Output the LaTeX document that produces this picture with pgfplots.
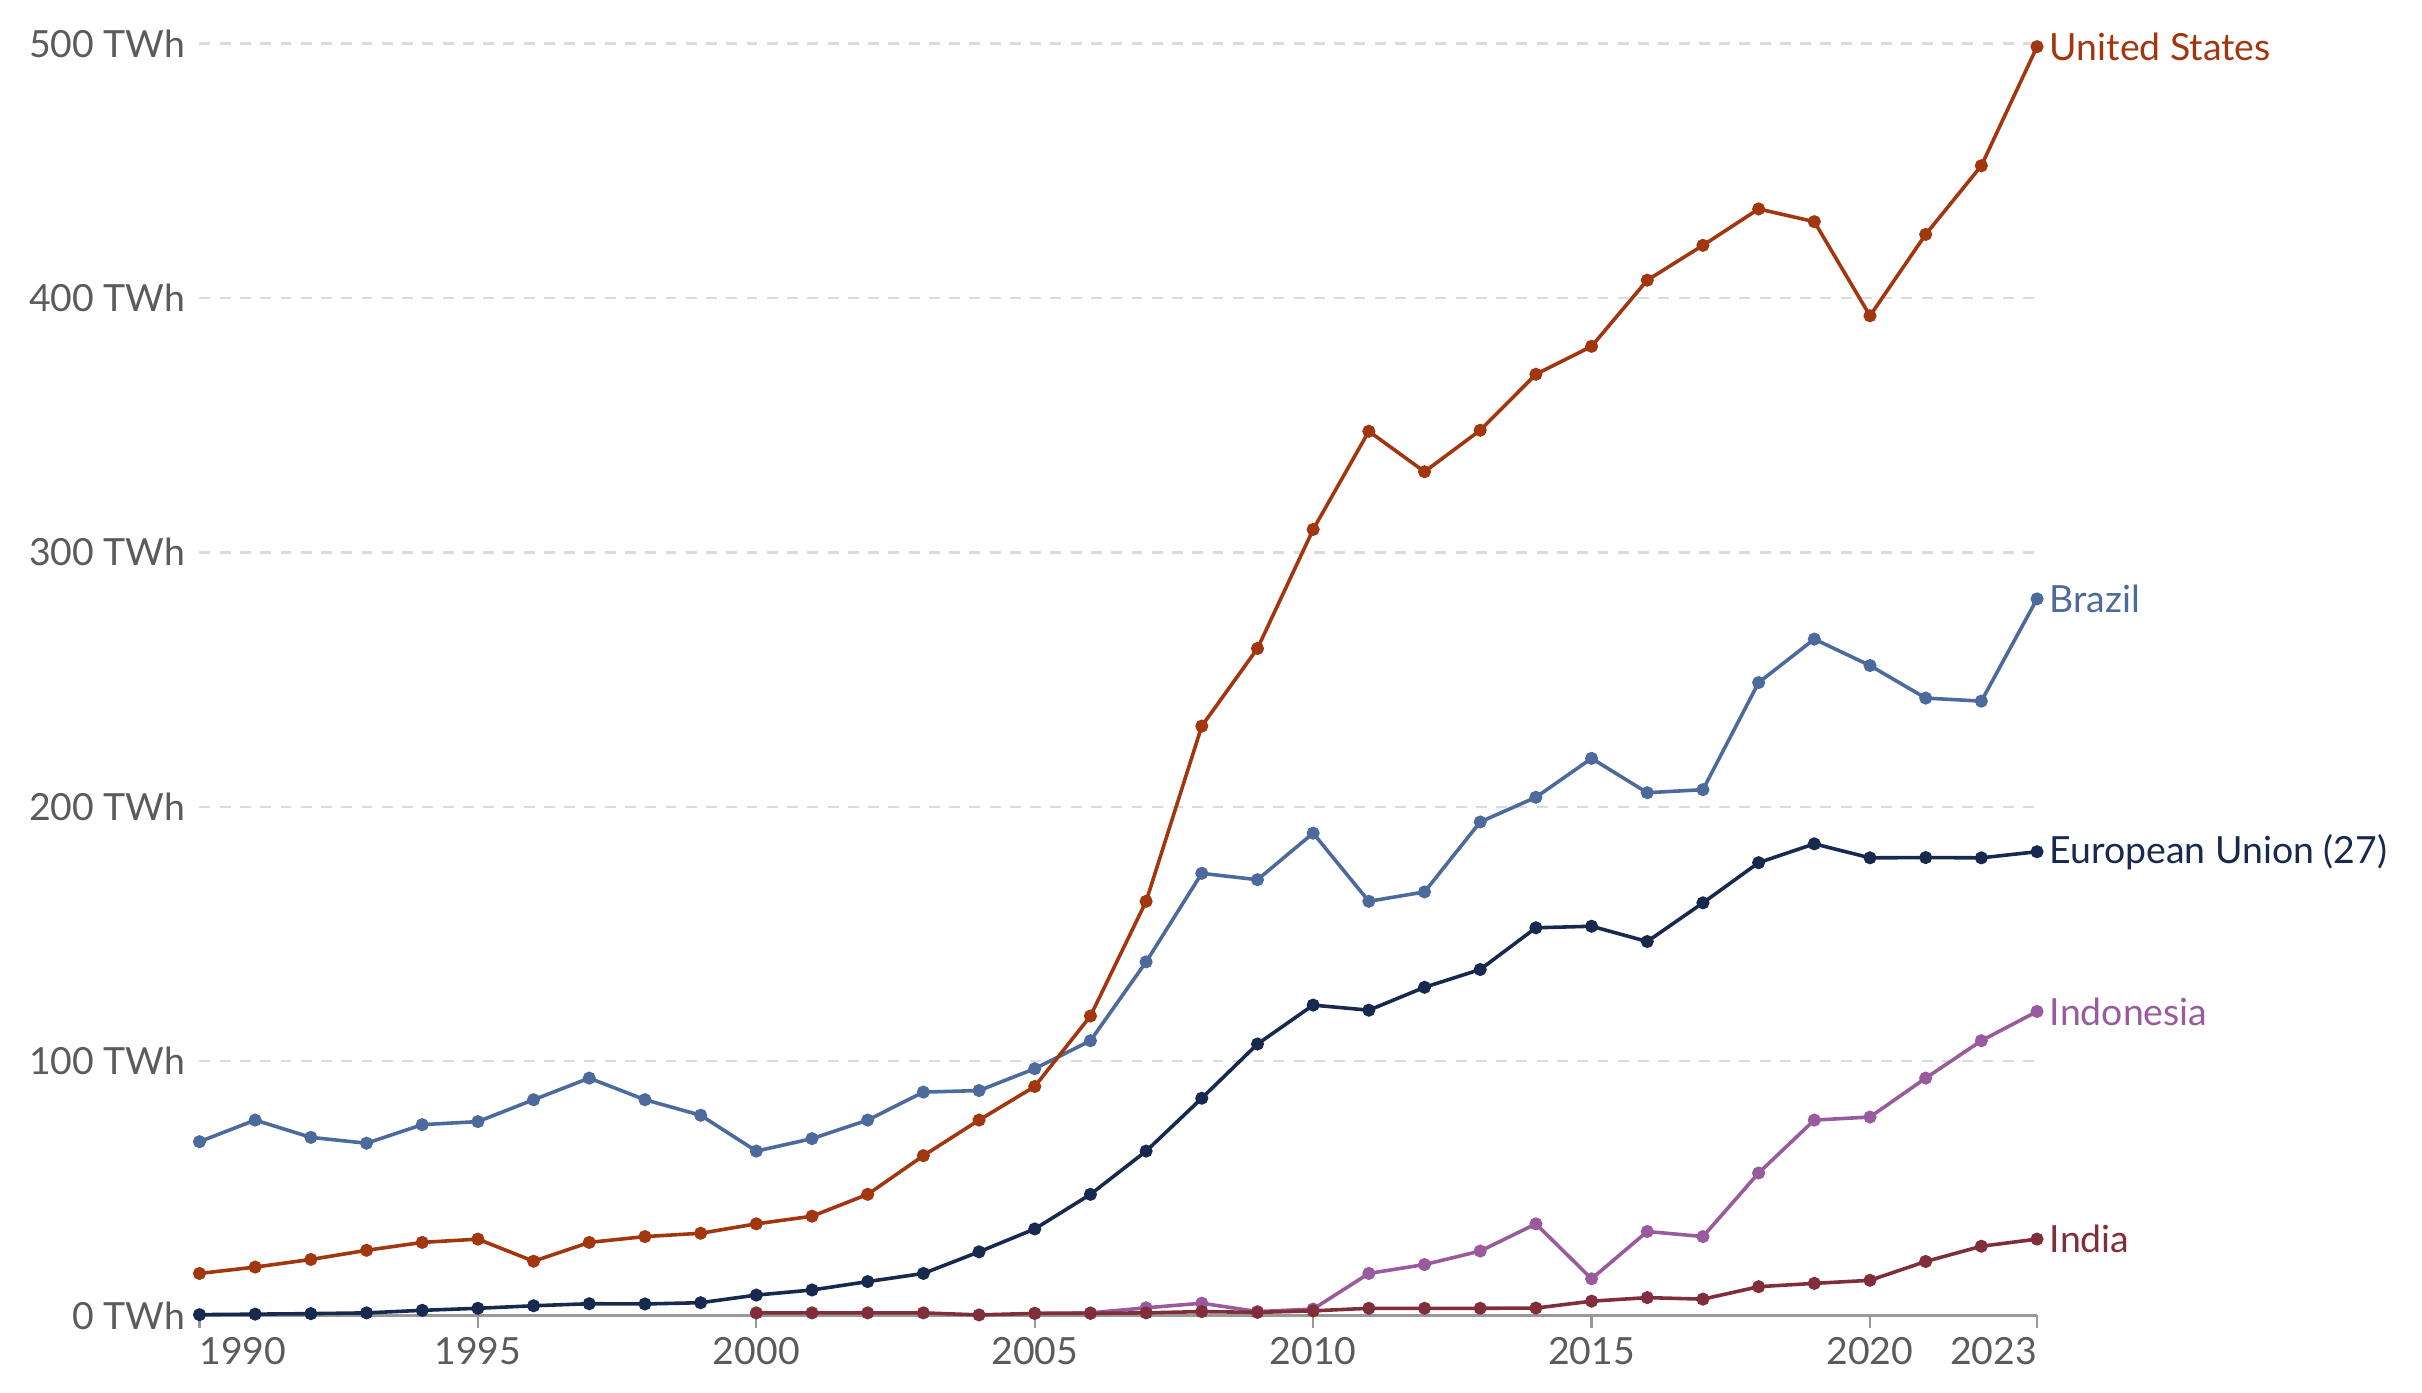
\documentclass[border=0pt]{standalone}
\usepackage{pgfplots}
\pgfplotsset{compat=1.18}
\usepackage{fontspec}
\setmainfont{Lato}
\definecolor{cUS}{HTML}{A2360F}
\definecolor{cBR}{HTML}{4C6A9C}
\definecolor{cEU}{HTML}{18294F}
\definecolor{cID}{HTML}{9A5B9E}
\definecolor{cIN}{HTML}{7F2E3A}
\definecolor{tickgray}{HTML}{5B5B5B}
\begin{document}
\begin{tikzpicture}
\begin{axis}[
  scale only axis,
  width=1179pt, height=816pt,
  xmin=1990, xmax=2023, ymin=0, ymax=500,
  clip=false,
  axis x line*=bottom,
  axis y line*=left,
  y axis line style={draw=none},
  x axis line style={draw=gray!80, line width=1.4pt},
  ytick={0,100,200,300,400,500},
  xtick={1990,1995,2000,2005,2010,2015,2020,2023},
  tick align=outside,
  major tick length=8pt,
  xtick style={draw=gray!80, line width=1.4pt},
  ytick style={draw=none},
  ymajorgrids,
  major grid style={draw=black!14, line width=1.5pt, dash pattern=on 7pt off 6pt},
  font=\fontsize{24}{28}\selectfont,
  ticklabel style={text=tickgray, font=\fontsize{24}{28}\selectfont},
  yticklabel={\pgfmathparse{int(round(\tick))}\pgfmathresult\ TWh},
  yticklabel style={anchor=east, inner sep=0pt, xshift=-1pt},
  xticklabel={\pgfmathparse{int(round(\tick))}\let\yr\pgfmathresult\ifnum\yr=1990 \rlap{1990}\else\ifnum\yr=2023 \llap{2023}\else\yr\fi\fi},
  xticklabel style={anchor=north, inner sep=0pt, yshift=-6pt},
  every axis plot/.append style={line width=2.3pt, mark=*, mark size=3pt},
]
\addplot[color=cBR, mark options={fill=cBR}] coordinates {
(1990,68.3)(1991,76.8)(1992,70)(1993,67.7)(1994,75)(1995,76.2)(1996,84.8)(1997,93.3)(1998,84.8)(1999,78.7)
(2000,64.6)(2001,69.5)(2002,76.8)(2003,87.8)(2004,88.4)(2005,97)(2006,108)(2007,139)(2008,173.8)(2009,171.3)
(2010,189.6)(2011,162.8)(2012,166.5)(2013,194)(2014,203.7)(2015,219)(2016,205.5)(2017,206.7)(2018,248.8)(2019,265.9)
(2020,255.5)(2021,242.7)(2022,241.5)(2023,281.7)};
\addplot[color=cUS, mark options={fill=cUS}] coordinates {
(1990,16.5)(1991,19)(1992,22)(1993,25.6)(1994,28.7)(1995,30)(1996,21.3)(1997,28.7)(1998,31)(1999,32.3)
(2000,36)(2001,39)(2002,47.6)(2003,62.8)(2004,76.8)(2005,90)(2006,117.7)(2007,162.8)(2008,231.7)(2009,262.2)
(2010,309)(2011,347.6)(2012,331.7)(2013,348)(2014,370)(2015,381)(2016,407)(2017,420.7)(2018,435)(2019,430)
(2020,393)(2021,425)(2022,452)(2023,498.8)};
\addplot[color=cEU, mark options={fill=cEU}] coordinates {
(1990,0.3)(1991,0.5)(1992,0.7)(1993,1)(1994,2)(1995,2.8)(1996,3.8)(1997,4.6)(1998,4.5)(1999,5)
(2000,8)(2001,10)(2002,13.3)(2003,16.5)(2004,25)(2005,34)(2006,47.6)(2007,64.6)(2008,85.4)(2009,106.7)
(2010,122)(2011,120)(2012,129)(2013,136)(2014,152.4)(2015,153)(2016,147)(2017,162.2)(2018,178)(2019,185.4)
(2020,179.9)(2021,180)(2022,179.9)(2023,182.3)};
\addplot[color=cID, mark options={fill=cID}] coordinates {
(2005,0.8)(2006,1)(2007,3)(2008,4.8)(2009,1.5)
(2010,2.5)(2011,16.5)(2012,20)(2013,25.3)(2014,36)(2015,14.4)(2016,33)(2017,31)(2018,56)(2019,76.8)
(2020,78)(2021,93.3)(2022,108)(2023,119.5)};
\addplot[color=cIN, mark options={fill=cIN}] coordinates {
(2000,1)(2001,1)(2002,1)(2003,1)(2004,0.2)(2005,0.8)(2006,0.8)(2007,1)(2008,1.5)(2009,1.2)
(2010,1.8)(2011,2.8)(2012,2.8)(2013,2.8)(2014,2.9)(2015,5.6)(2016,7)(2017,6.4)(2018,11.3)(2019,12.6)
(2020,13.8)(2021,21.2)(2022,27.2)(2023,30)};
\node[anchor=west, text=cUS, inner sep=0pt, xshift=8pt] at (axis cs:2023,498.8) {United States};
\node[anchor=west, text=cBR, inner sep=0pt, xshift=8pt] at (axis cs:2023,281.7) {Brazil};
\node[anchor=west, text=cEU, inner sep=0pt, xshift=8pt] at (axis cs:2023,182.3) {European Union (27)};
\node[anchor=west, text=cID, inner sep=0pt, xshift=8pt] at (axis cs:2023,119.5) {Indonesia};
\node[anchor=west, text=cIN, inner sep=0pt, xshift=8pt] at (axis cs:2023,30) {India};
\path ([xshift=-128pt,yshift=-49.2pt]rel axis cs:0,0) rectangle ([xshift=247pt,yshift=28pt]rel axis cs:1,1);
\end{axis}
\end{tikzpicture}
\end{document}
